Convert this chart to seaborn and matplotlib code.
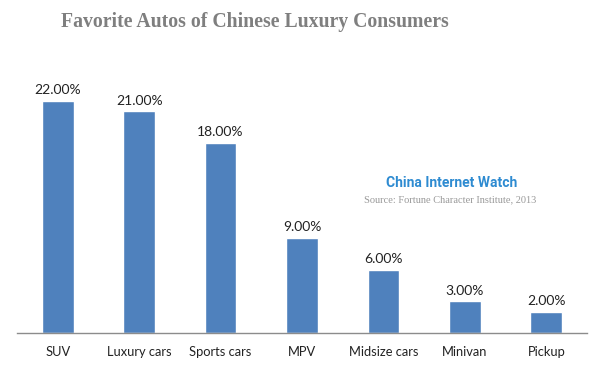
import numpy as np
import pandas as pd
import matplotlib
matplotlib.use('Agg')
import matplotlib.pyplot as plt
import seaborn as sns

sns.set_style('white')

# data
categories = ['SUV', 'Luxury cars', 'Sports cars', 'MPV', 'Midsize cars', 'Minivan', 'Pickup']
shares = [22.0, 21.0, 18.0, 9.0, 6.0, 3.0, 2.0]

df = pd.DataFrame({'category': categories, 'share': shares})

fig = plt.figure(figsize=(6, 3.71), dpi=100)
ax = fig.add_axes([17 / 600, 38 / 371, 570 / 600, 263.75 / 371])

sns.barplot(data=df, x='category', y='share', color='#4F81BD', saturation=1,
            width=0.39, ax=ax)

ax.set_ylim(0, 25)
ax.set_xlim(-0.5, len(categories) - 0.5)
ax.set_xlabel('')
ax.set_ylabel('')
ax.set_yticks([])

for s in ['top', 'right', 'left']:
    ax.spines[s].set_visible(False)
ax.spines['bottom'].set_color('#8c8c8c')
ax.spines['bottom'].set_linewidth(1)

# tick marks between categories
ax.set_xticks(np.arange(-0.5, len(categories)), minor=True)
ax.tick_params(axis='x', which='minor', length=5, color='#8c8c8c', width=1, direction='out')
ax.tick_params(axis='x', which='major', length=0, pad=9, labelsize=9.3, labelcolor='#222222')
for lbl in ax.get_xticklabels():
    lbl.set_family('Lato')

for i, v in enumerate(shares):
    ax.text(i, v + 0.45, f'{v:.2f}%', ha='center', va='bottom', fontsize=10,
            color='#222222', family='Lato')

fig.text(255 / 600, 1 - 22 / 371, 'Favorite Autos of Chinese Luxury Consumers',
         ha='center', va='center', fontsize=14.2, fontweight='bold',
         color='#7f7f7f', family='Liberation Serif')

fig.text(452 / 600, 1 - 183 / 371, 'China Internet Watch', ha='center', va='center',
         fontsize=10, fontweight='bold', color='#2E8BD1', family='Roboto')
fig.text(450 / 600, 1 - 200 / 371, 'Source: Fortune Character Institute, 2013',
         ha='center', va='center', fontsize=7.5, color='#999999',
         family='Liberation Serif')

fig.savefig('out.png', dpi=100)
